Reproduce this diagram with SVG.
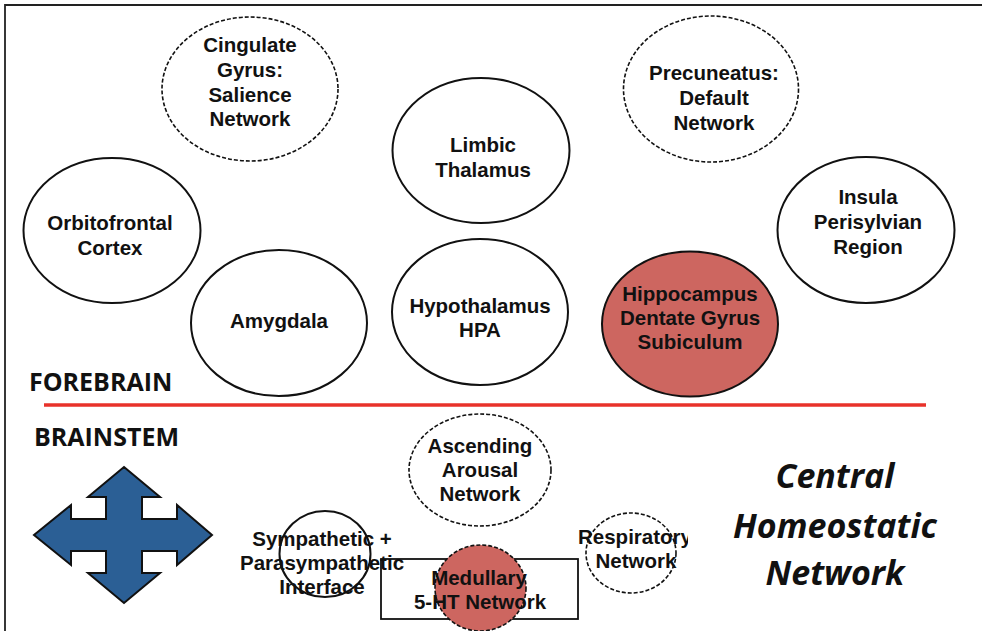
<svg xmlns="http://www.w3.org/2000/svg" width="982" height="631" viewBox="0 0 982 631">
<style>
.n{fill:#fff;stroke:#111;stroke-width:2}
.d{fill:#fff;stroke:#111;stroke-width:1.6;stroke-dasharray:4 2}
.r{fill:#cd6660}
.t{font-family:"Liberation Sans",Arial,sans-serif;font-weight:700;font-size:20.5px;fill:#111;text-anchor:middle}
.h{font-family:"Open Sans","Liberation Sans",sans-serif;font-weight:700;font-size:25px;fill:#111}
.c{font-family:"Open Sans","Liberation Sans",sans-serif;font-weight:700;font-style:italic;font-size:34px;fill:#111;text-anchor:middle}
</style>
<defs>
<clipPath id="respClip"><rect x="560" y="500" width="128" height="100"/></clipPath>
</defs>
<rect width="982" height="631" fill="#fff"/>
<path d="M5,631 V5 H982" fill="none" stroke="#222" stroke-width="1.8"/>

<g id="cingulate"><ellipse class="d" cx="250" cy="89" rx="88" ry="72"/>
<text class="t" x="250" y="52">Cingulate</text><text class="t" x="250" y="77">Gyrus:</text><text class="t" x="250" y="101.5">Salience</text><text class="t" x="250" y="126">Network</text></g>

<g id="precuneatus"><ellipse class="d" cx="711" cy="89" rx="87.5" ry="73"/>
<text class="t" x="714" y="80">Precuneatus:</text><text class="t" x="714" y="105">Default</text><text class="t" x="714" y="130">Network</text></g>

<g id="limbic-thalamus"><ellipse class="n" cx="481" cy="150.5" rx="88.5" ry="72.5"/>
<text class="t" x="483" y="152">Limbic</text><text class="t" x="483" y="177">Thalamus</text></g>

<g id="orbitofrontal"><ellipse class="n" cx="112" cy="230.5" rx="88.5" ry="72.5"/>
<text class="t" x="110" y="230">Orbitofrontal</text><text class="t" x="110" y="255">Cortex</text></g>

<g id="insula"><ellipse class="n" cx="866" cy="230" rx="88.5" ry="73"/>
<text class="t" x="868" y="204">Insula</text><text class="t" x="868" y="229">Perisylvian</text><text class="t" x="868" y="254">Region</text></g>

<g id="amygdala"><ellipse class="n" cx="279" cy="323" rx="88" ry="73"/>
<text class="t" x="279" y="328">Amygdala</text></g>

<g id="hypothalamus"><ellipse class="n" cx="480" cy="312" rx="88" ry="73"/>
<text class="t" x="480" y="313">Hypothalamus</text><text class="t" x="480" y="337">HPA</text></g>

<g id="hippocampus"><ellipse class="n r" cx="690" cy="324" rx="88" ry="72.5"/>
<text class="t" x="690" y="301">Hippocampus</text><text class="t" x="690" y="325">Dentate Gyrus</text><text class="t" x="690" y="349">Subiculum</text></g>

<g id="divider">
<text class="h" x="29" y="391">FOREBRAIN</text>
<line x1="44" y1="405" x2="926" y2="405" stroke="#e8322a" stroke-width="3.5"/>
<text class="h" x="34" y="446">BRAINSTEM</text>
</g>

<g id="arrow">
<polygon points="124,467 160,497 142,497 142,519 177,519 177,505 212,535 177,565 177,551 142,551 142,573 160,573 124,603 88,573 106,573 106,551 71,551 71,565 34,535 71,505 71,519 106,519 106,497 88,497" fill="#2b5f95" stroke="#111" stroke-width="2" stroke-linejoin="miter"/>
</g>

<g id="ascending-arousal"><ellipse class="d" cx="480" cy="470" rx="71" ry="56"/>
<text class="t" x="480" y="453">Ascending</text><text class="t" x="480" y="477">Arousal</text><text class="t" x="480" y="501">Network</text></g>

<g id="sympathetic"><ellipse cx="325" cy="554" rx="45.5" ry="43" fill="none" stroke="#111" stroke-width="2"/>
<text class="t" x="322" y="546">Sympathetic +</text><text class="t" x="322" y="570">Parasympathetic</text><text class="t" x="322" y="594">Interface</text></g>

<g id="respiratory"><ellipse class="d" cx="631" cy="553" rx="45" ry="40"/>
<text class="t" x="578" y="544" clip-path="url(#respClip)" style="text-anchor:start">Respiratory</text><text class="t" x="636" y="568">Network</text></g>

<g id="medullary"><rect x="381" y="559" width="197" height="60" fill="none" stroke="#111" stroke-width="1.8"/>
<ellipse class="d r" cx="480.5" cy="588" rx="45.5" ry="43"/>
<text class="t" x="479" y="585">Medullary</text><text class="t" x="480" y="609">5-HT Network</text></g>

<g id="central-label">
<text class="c" x="835" y="488">Central</text><text class="c" x="835" y="538">Homeostatic</text><text class="c" x="835" y="585">Network</text>
</g>

<g id="connectors"></g>
</svg>
